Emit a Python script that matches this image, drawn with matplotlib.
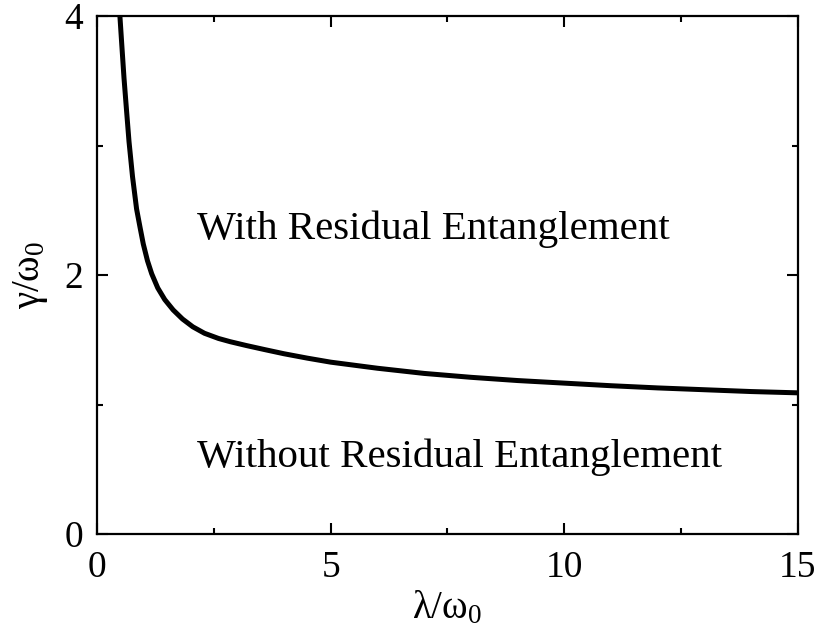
import matplotlib
matplotlib.use("Agg")
import matplotlib.pyplot as plt
from matplotlib.ticker import MultipleLocator

plt.rcParams['font.family'] = ['Liberation Serif', 'DejaVu Serif']
plt.rcParams['mathtext.default'] = 'regular'

# boundary curve (lambda/omega0, gamma/omega0)
lam = [0.49, 0.53, 0.578, 0.63, 0.685, 0.76, 0.847, 0.92, 0.99, 1.08, 1.17,
       1.30, 1.45, 1.63, 1.83, 2.05, 2.3, 2.6, 2.85, 3.2, 3.6, 4.0, 4.5, 5.0,
       6.0, 7.0, 8.0, 9.0, 10.0, 11.0, 12.0, 13.0, 14.0, 15.0]
gam = [4.00, 3.78, 3.52, 3.28, 3.03, 2.76, 2.51, 2.37, 2.24, 2.11, 2.01,
       1.90, 1.81, 1.73, 1.66, 1.60, 1.55, 1.51, 1.485, 1.455, 1.423, 1.392,
       1.358, 1.327, 1.28, 1.24, 1.21, 1.185, 1.165, 1.145, 1.128, 1.114,
       1.10, 1.09]

xticks = [0, 5, 10, 15]
yticks = [0, 2, 4]
label_upper = "With Residual Entanglement"
label_lower = "Without Residual Entanglement"

fig = plt.figure(figsize=(8.2, 6.38), dpi=100)
ax = fig.add_axes([97/820, 1-534/638, (798-97)/820, (534-16)/638])
ax.plot(lam, gam, color='black', lw=3.6, solid_capstyle='butt',
        solid_joinstyle='round')
ax.set_xlim(0, 15)
ax.set_ylim(0, 4)
ax.set_xticks(xticks)
ax.set_yticks(yticks)
ax.xaxis.set_minor_locator(MultipleLocator(2.5))
ax.yaxis.set_minor_locator(MultipleLocator(1))
ax.tick_params(which='both', direction='in', top=True, right=True, width=1.5,
               labelsize=27)
ax.tick_params(axis='x', which='major', pad=12)
ax.tick_params(axis='y', which='major', pad=10)
ax.tick_params(which='major', length=8)
ax.tick_params(which='minor', length=4)
for s in ax.spines.values():
    s.set_linewidth(1.6)

ax.text(2.15, 2.35, label_upper, fontsize=29.5, va='center', ha='left')
ax.text(2.15, 0.59, label_lower, fontsize=29.5, va='center', ha='left')

ax.set_xlabel(r'$λ/ω_0$', fontsize=28, labelpad=3)
ax.set_ylabel(r'$γ/ω_0$', fontsize=28, labelpad=10)

fig.savefig('out.png', dpi=100)
